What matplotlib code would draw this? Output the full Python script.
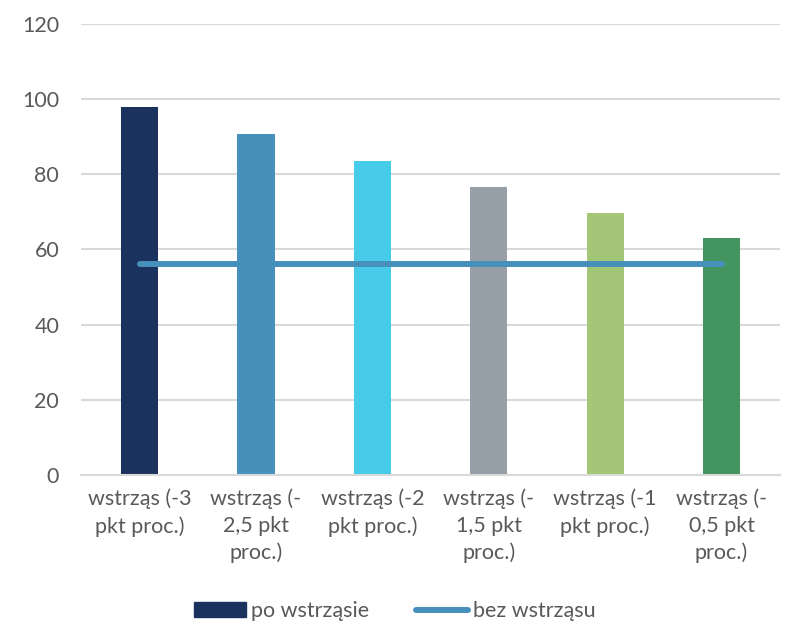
import numpy as np
import matplotlib.pyplot as plt
from matplotlib.lines import Line2D
from matplotlib.patches import Patch

plt.rcParams['font.family'] = ['Lato', 'DejaVu Sans']

# Data
categories = ["wstrząs (-3\npkt proc.)", "wstrząs (-\n2,5 pkt\nproc.)", "wstrząs (-2\npkt proc.)",
              "wstrząs (-\n1,5 pkt\nproc.)", "wstrząs (-1\npkt proc.)", "wstrząs (-\n0,5 pkt\nproc.)"]
po_wstrzasie = [98.0, 90.8, 83.6, 76.7, 69.8, 63.1]
bez_wstrzasu = [56.2, 56.2, 56.2, 56.2, 56.2, 56.2]
bar_colors = ['#1B325F', '#4691BB', '#46CBE8', '#979FA8', '#A3C776', '#43945E']
text_color = '#595959'

fig = plt.figure(figsize=(7.9, 6.23), dpi=100)
ax = fig.add_axes([0.103, 0.2376, 0.884, 0.724])

x = np.arange(len(categories))
ax.bar(x, po_wstrzasie, width=0.32, color=bar_colors, zorder=2)
ax.plot(x, bez_wstrzasu, color='#4690BB', lw=4.3, solid_capstyle='round', zorder=3)

ax.set_xlim(-0.5, len(categories) - 0.5)
ax.set_ylim(0, 120)
ax.set_yticks(np.arange(0, 121, 20))
ax.set_xticks(x)
ax.set_xticklabels(categories, linespacing=1.4)
ax.tick_params(axis='both', length=0, labelsize=15.5, colors=text_color)
ax.tick_params(axis='x', pad=10)
ax.tick_params(axis='y', pad=16)
ax.grid(axis='y', color='#D9D9D9', lw=1.5, zorder=0)
for s in ax.spines.values():
    s.set_visible(False)
ax.spines['bottom'].set_visible(True)
ax.spines['bottom'].set_color('#D9D9D9')
ax.spines['bottom'].set_linewidth(1.5)

handles = [Patch(color='#1B325F', label='po wstrząsie'),
           Line2D([0], [0], color='#4690BB', lw=4.3, solid_capstyle='round', label='bez wstrząsu')]
fig.legend(handles=handles, loc='center', bbox_to_anchor=(0.5, 0.019), ncol=2, frameon=False,
           fontsize=15.5, handlelength=2.4, handletextpad=0.25, columnspacing=2.2,
           labelcolor=text_color, borderpad=0)

fig.savefig('out.png', dpi=100)
